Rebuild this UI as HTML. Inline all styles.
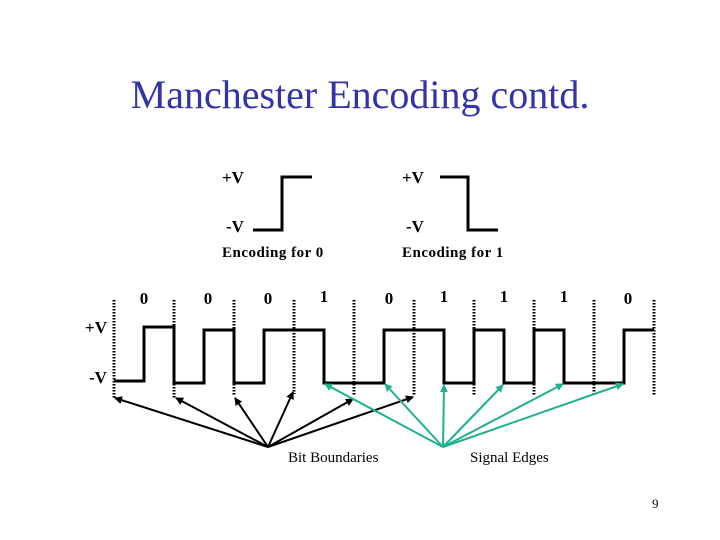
<!DOCTYPE html>
<html><head><meta charset="utf-8"><style>
html,body{margin:0;padding:0;background:#fff;}
svg{display:block}
text{font-family:"Liberation Serif",serif;}
</style></head><body>
<svg width="720" height="540" viewBox="0 0 720 540" xmlns="http://www.w3.org/2000/svg">
<defs>
<marker id="ab" markerWidth="8" markerHeight="8" refX="7" refY="4" orient="auto" markerUnits="userSpaceOnUse"><path d="M0,0 L8,4 L0,8 z" fill="#000"/></marker>
<marker id="at" markerWidth="8" markerHeight="8" refX="7" refY="4" orient="auto" markerUnits="userSpaceOnUse"><path d="M0,0 L8,4 L0,8 z" fill="#20b090"/></marker>
</defs>
<text x="360" y="108" font-size="40" fill="#3333aa" text-anchor="middle">Manchester Encoding contd.</text>
<g font-size="17" font-weight="bold">
<text x="222" y="183">+V</text><text x="226" y="232">-V</text>
<text x="402" y="183">+V</text><text x="406" y="232">-V</text>
</g>
<g font-size="15" font-weight="bold" letter-spacing="0.5">
<text x="222" y="257">Encoding for 0</text>
<text x="402" y="257">Encoding for 1</text>
</g>
<path d="M253,230 H282 V177 H312" fill="none" stroke="#000" stroke-width="3"/>
<path d="M440,177 H468 V230 H498" fill="none" stroke="#000" stroke-width="3"/>
<g font-size="17" font-weight="bold" text-anchor="middle">
<text x="144" y="304">0</text><text x="208" y="304">0</text><text x="268" y="304">0</text><text x="324" y="302">1</text>
<text x="389" y="304">0</text><text x="444" y="302">1</text><text x="504" y="302">1</text><text x="564" y="302">1</text><text x="628" y="304">0</text>
<text x="96" y="333">+V</text><text x="98" y="383">-V</text>
</g>
<g stroke="#000" stroke-width="3" stroke-dasharray="1.5,1.5">
<line x1="114" y1="300" x2="114" y2="398"/><line x1="174" y1="300" x2="174" y2="398"/>
<line x1="234" y1="300" x2="234" y2="396"/><line x1="294" y1="300" x2="294" y2="394"/>
<line x1="354" y1="300" x2="354" y2="396"/><line x1="414" y1="300" x2="414" y2="396"/>
<line x1="474" y1="300" x2="474" y2="396"/><line x1="534" y1="300" x2="534" y2="396"/>
<line x1="594" y1="300" x2="594" y2="396"/><line x1="654" y1="300" x2="654" y2="396"/>
</g>
<path d="M114,381 H144 V327 H174 V383 H204 V330 H234 V383 H264 V330 H324 V383 H384 V330 H444 V383 H474 V330 H504 V383 H534 V330 H564 V383 H624 V330 H654" fill="none" stroke="#000" stroke-width="3"/>
<g stroke="#000" stroke-width="2" marker-end="url(#ab)">
<line x1="268" y1="447" x2="115" y2="398"/><line x1="268" y1="447" x2="176" y2="398"/>
<line x1="268" y1="447" x2="235" y2="398"/><line x1="268" y1="447" x2="293" y2="392"/>
<line x1="268" y1="447" x2="353" y2="399"/><line x1="268" y1="447" x2="413" y2="397"/>
</g>
<g stroke="#20b090" stroke-width="2" marker-end="url(#at)">
<line x1="443" y1="447" x2="325" y2="384"/><line x1="443" y1="447" x2="385" y2="384"/>
<line x1="443" y1="447" x2="444" y2="385"/><line x1="443" y1="447" x2="503" y2="385"/>
<line x1="443" y1="447" x2="563" y2="384"/><line x1="443" y1="447" x2="623" y2="384"/>
</g>
<text x="288" y="462" font-size="15">Bit Boundaries</text>
<text x="470" y="462" font-size="15">Signal Edges</text>
<text x="652" y="508" font-size="13">9</text>
</svg>
</body></html>
